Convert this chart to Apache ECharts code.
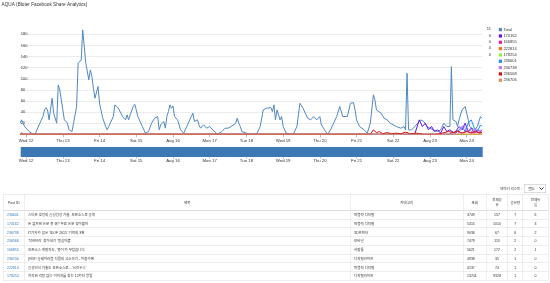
<!DOCTYPE html>
<html><head><meta charset="utf-8">
<script src="https://cdn.jsdelivr.net/npm/echarts@6/dist/echarts.min.js"></script>
<style>
html,body{margin:0;padding:0;background:#fff;width:550px;height:283px;overflow:hidden;}
#chart{position:absolute;left:0;top:0;width:550px;height:182px;}
#below{position:absolute;left:0;top:0;width:1100px;height:566px;transform:scale(0.5);transform-origin:0 0;font-family:Arial,"Liberation Sans","Noto Sans CJK KR",sans-serif;color:#333;}
#filter{position:absolute;left:1000px;top:368px;height:18px;font-size:7px;display:flex;align-items:center;white-space:nowrap;}
#filter select{margin-left:4px;font-size:7px;height:18px;width:44px;padding:0 2px;border:1px solid #bbb;background:#fff;color:#333;}
#tbl{position:absolute;left:6px;top:388px;width:1090px;border-collapse:collapse;table-layout:fixed;font-size:7px;font-family:Arial,"Noto Sans CJK KR",sans-serif;}
#tbl th,#tbl td{border:1px solid #ddd;padding:0 7px;box-sizing:border-box;overflow:hidden;white-space:nowrap;}
#tbl th{height:32px;font-weight:normal;text-align:center;border-bottom:2px solid #ddd;white-space:normal;word-break:break-all;line-height:9px;}
#tbl td{height:17.5px;line-height:9px;}
#tbl td.c{text-align:center;}
#tbl a{color:#337ab7;text-decoration:none;}
</style></head>
<body>
<div id="chart"></div>
<div id="below">
  <div id="filter"><span id="filterLabel"></span><select><option id="filterOpt"></option></select></div>
  <table id="tbl"><colgroup><col style="width:42px"><col style="width:652px"><col style="width:226px"><col style="width:46px"><col style="width:43px"><col style="width:30px"><col style="width:51px"></colgroup><thead><tr id="hdr"></tr></thead><tbody id="body"></tbody></table>
</div>
<script>
// ---------- chart data ----------
const chartTitle = 'AQUA (Bloter Facebook Share Analytics)';
const tickHours = [0,24,48,72,96,120,144,168,192,216,240,264,288];
const tickLabels = ['Wed 12','Thu 13','Fri 14','Sat 15','Aug 16','Mon 17','Tue 18','Wed 19','Thu 20','Fri 21','Sat 22','Aug 23','Mon 24'];
const seriesNames = ['Total','170162','166855','222814','178254','236601','236738','236568','236706'];
const seriesColors = ['#5088c0','#6a10f0','#e61ea8','#ff7310','#9af03a','#1e8cf0','#c87af5','#cc1010','#e08a55'];
const legendCounts = [11,0,0,0,0];

const totalHours = [-4,-3,-1,2,4,6,7,9,11,12,13,14,15,16,17,18,19,20,21,22,23,24,25,27,28,29,30,31,32,33,34,35,36,37,39,40,41,42,43,44,45,46,47,
  48,50,51,52,53,54,55,57,58,60,62,63,64,65,66,67,68,70,71,72,73,76,78,80,82,84,86,87,88,89,90,91,92,93,94,95,96,97,99,101,103,105,106,107,108,109,110,112,113,114,115,116,118,120,122,125,126,128,130,132,134,137,138,139,140,141,142,144,146,149,151,153,155,156,157,158,160,161,162,163,164,165,166,167,168,170,173,175,177,178,
  179,181,184,186,188,190,192,193,194,197,199,201,203,205,207,208,210,212,214,215,216,218,221,223,225,227,228,229,230,232,234,236,238,240,242,245,247,248,249,250,252,254,258,260,262,264,266,269,271,273,275,277,278,279,281,282,283,285,287,288,289,290,293,295,297,298];
const totalValues = [20,26,14,5,1,1,4,20,32,44,48,44,26,26,65,38,35,20,89,80,62,65,26,20,8,5,5,20,17,50,128,128,134,188,128,128,98,116,104,83,65,68,86,
  56,30,32,14,8,14,14,32,53,48,38,32,35,26,35,26,35,50,54,44,32,14,2,5,20,29,32,8,17,14,23,11,32,41,53,47,51,32,26,8,2,14,20,20,32,38,23,26,17,11,14,17,11,14,8,0,1,5,11,11,14,20,29,20,14,5,8,2,0,0,2,14,44,41,47,44,48,41,53,26,44,35,26,32,14,2,0,2,14,35,
  56,47,29,26,32,26,32,17,14,0,8,20,32,50,32,35,32,56,57,44,26,14,8,2,20,71,62,44,47,38,29,26,20,17,14,11,14,8,110,8,8,14,26,23,14,11,8,5,8,20,14,14,122,26,23,14,26,44,50,48,26,14,8,14,32,29];

const s170162Hours = [-4,254,257,259,261,263,265,267,269,271,273,275,277,280,283,285,287,289,291,293,295,297,298];
const s170162Values = [0,0,26,14,20,8,14,5,8,2,14,5,8,2,14,8,20,5,11,2,8,5,8];
const s166855Hours = [-4,276,279,282,285,288,291,294,297,298];
const s166855Values = [0,0,3,5,2,6,2,4,3,2];
const s222814Hours = [-4,298];
const s222814Values = [0,0];
const s178254Hours = [-4,11,12,13,45,46,47,59,60,61,81,82,83,88,89,90,160,161,162,298];
const s178254Values = [0,0,1,0,0,1,0,0,1,0,0,1,0,0,1,0,0,1,0,0];
const s236601Hours = [-4,280,283,285,287,289,291,293,295,297,298];
const s236601Values = [0,0,8,14,5,20,26,11,5,17,14];
const s236738Hours = [-4,282,284,286,288,290,292,294,296,298];
const s236738Values = [0,0,8,17,5,8,3,11,5,8];
const s236568Hours = [-4,225,227,229,231,233,236,239,242,245,248,251,255,260,268,272,276,279,282,285,288,291,294,296,298];
const s236568Values = [0,0,8,3,5,1,3,1,2,1,4,1,2,0,0,2,5,3,6,2,5,3,6,2,4];
const s236706Hours = [-4,298];
const s236706Values = [0,0];

// ---------- table data ----------
const filterLabel = '데이터 리스트 :';
const filterOption = '모두';
const tableHeaders = ['Post ID','제목','카테고리','조회','전체공유','공유량','전체유입'];
const postIds = ['236601','170162','236738','236568','166855','236706','222814','178254'];
const postTitles = ['스티븐 호킹의 음성합성 기술, 오픈소스로 공개','돈 없으면 논문 못 봐? 무료 논문 찾아볼까','IT기자가 꼽은 \'IDOF 2015\' 기억의 3편','\'착한브라\' 찾아내기 \'몽심어플\'','오픈소스 개발자도, \'영어\'가 무섭습니다','[바보니] 웨어러블 직물의 고소하기 - 이잡수편','음성인식 기술도 오픈소스로…\'시리우스\'','저작권 걱정 없는 이미지를 찾는 12가지 방법'];
const postCategories = ['퍼블릭 디지털','퍼블릭 디지털','3D프린터','모바일','사람들','디지털라이프','퍼블릭 디지털','디지털라이프'];
const postViews = [3749,5415,9036,7479,5621,4938,4137,13741];
const postTotalShares = [157,1010,67,113,172,35,74,9328];
const postShares = [7,7,6,2,2,1,1,1];
const postTotalInflow = [6,3,2,0,1,0,0,0];

// ---------- build chart ----------
const hoursList = [totalHours,s170162Hours,s166855Hours,s222814Hours,s178254Hours,s236601Hours,s236738Hours,s236568Hours,s236706Hours];
const valuesList = [totalValues,s170162Values,s166855Values,s222814Values,s178254Values,s236601Values,s236738Values,s236568Values,s236706Values];
const pair = (h, v) => h.map((x, i) => [x, v[i]]);
const FONT = 'Arial, "Liberation Sans", sans-serif';

const series = seriesNames.map((name, i) => ({
  name, type: 'line', xAxisIndex: 0, yAxisIndex: 0,
  data: pair(hoursList[i], valuesList[i]),
  symbol: 'none', showSymbol: false,
  lineStyle: {width: 1, color: seriesColors[i]},
  itemStyle: {color: seriesColors[i]},
  z: 2 + i
}));
series.push({
  name: 'context', type: 'line', xAxisIndex: 1, yAxisIndex: 1,
  data: pair(totalHours, totalValues), symbol: 'none', silent: true,
  lineStyle: {width: 1, color: seriesColors[0], opacity: 0}
});

const chart = echarts.init(document.getElementById('chart'), null, {renderer: 'canvas'});
chart.setOption({
  animation: false,
  title: {text: chartTitle, left: 1.5, top: 2.5, padding: 0,
    textStyle: {fontSize: 4.7, fontWeight: 'normal', color: '#333', fontFamily: FONT}},
  legend: {
    orient: 'vertical', left: 498.8, top: 27.6, padding: 0,
    itemWidth: 3.2, itemHeight: 3.2, itemGap: 2.33, icon: 'rect',
    data: seriesNames, selectedMode: false,
    textStyle: {fontSize: 4, lineHeight: 4, color: '#333', fontFamily: FONT, padding: [0, 0, 0, -3.6]}
  },
  graphic: legendCounts.map((c, i) => ({
    type: 'text', x: 491, y: 29.2 + i * 6.33,
    style: {text: String(c), fill: '#333', font: '4px ' + FONT, textAlign: 'right', textVerticalAlign: 'middle'}
  })),
  grid: [
    {left: 20, right: 68, top: 28.8, height: 105.5, containLabel: false},
    {left: 20, right: 68, top: 147, height: 10, containLabel: false}
  ],
  xAxis: [
    {type: 'value', gridIndex: 0, min: 'dataMin', max: 'dataMax',
      axisLine: {show: true, lineStyle: {color: '#ccc', width: 1}},
      axisTick: {show: true, length: 3, lineStyle: {color: '#bbb'}, customValues: tickHours},
      axisLabel: {customValues: tickHours, fontSize: 4.3, color: '#333', margin: 4.5, fontFamily: FONT,
        formatter: v => tickLabels[tickHours.indexOf(v)] || ''},
      splitLine: {show: false}},
    {type: 'value', gridIndex: 1, min: 'dataMin', max: 'dataMax',
      axisLine: {show: false},
      axisTick: {show: true, length: 2, lineStyle: {color: '#ccc'}, customValues: tickHours},
      axisLabel: {customValues: tickHours, fontSize: 4.3, color: '#333', margin: 2, fontFamily: FONT,
        formatter: v => tickLabels[tickHours.indexOf(v)] || ''},
      splitLine: {show: false}}
  ],
  yAxis: [
    {type: 'value', gridIndex: 0, min: 0, max: 190, interval: 20,
      axisLine: {show: false}, axisTick: {show: false},
      axisLabel: {inside: true, margin: 0.8, fontSize: 4, color: '#333', fontFamily: FONT, showMaxLabel: false},
      splitLine: {show: true, showMaxLine: false, lineStyle: {color: '#ececec', width: 1}}},
    {type: 'value', gridIndex: 1, min: 0, max: 190, show: false}
  ],
  dataZoom: [{
    type: 'slider', xAxisIndex: 1, filterMode: 'none', start: 0, end: 100,
    left: 20, right: 68, top: 147, height: 10,
    backgroundColor: 'transparent', borderColor: 'transparent', fillerColor: '#3c79b4',
    showDetail: false, showDataShadow: false, brushSelect: false, zoomLock: true,
    handleSize: 0, moveHandleSize: 0,
    handleStyle: {color: 'transparent', borderColor: 'transparent', opacity: 0},
    moveHandleStyle: {opacity: 0},
    emphasis: {handleStyle: {opacity: 0}, moveHandleStyle: {opacity: 0}},
    dataBackground: {lineStyle: {opacity: 0}, areaStyle: {opacity: 0}},
    selectedDataBackground: {lineStyle: {opacity: 0}, areaStyle: {opacity: 0}}
  }],
  series
});

// ---------- build table ----------
document.getElementById('filterLabel').textContent = filterLabel;
document.getElementById('filterOpt').textContent = filterOption;
const hdr = document.getElementById('hdr');
tableHeaders.forEach(h => { const th = document.createElement('th'); th.textContent = h; hdr.appendChild(th); });
const hp = [null, null, null, null, '0 9px', '0 4px', '0 13px'];
Array.from(hdr.children).forEach((th, i) => { if (hp[i]) th.style.padding = hp[i]; });
const body = document.getElementById('body');
postIds.forEach((id, i) => {
  const tr = document.createElement('tr');
  const cells = [id, postTitles[i], postCategories[i], postViews[i], postTotalShares[i], postShares[i], postTotalInflow[i]];
  cells.forEach((c, j) => {
    const td = document.createElement('td');
    if (j === 0) { const a = document.createElement('a'); a.href = '#'; a.textContent = c; td.appendChild(a); }
    else td.textContent = String(c);
    if (j >= 4) td.className = 'c';
    tr.appendChild(td);
  });
  body.appendChild(tr);
});
</script>
</body></html>
